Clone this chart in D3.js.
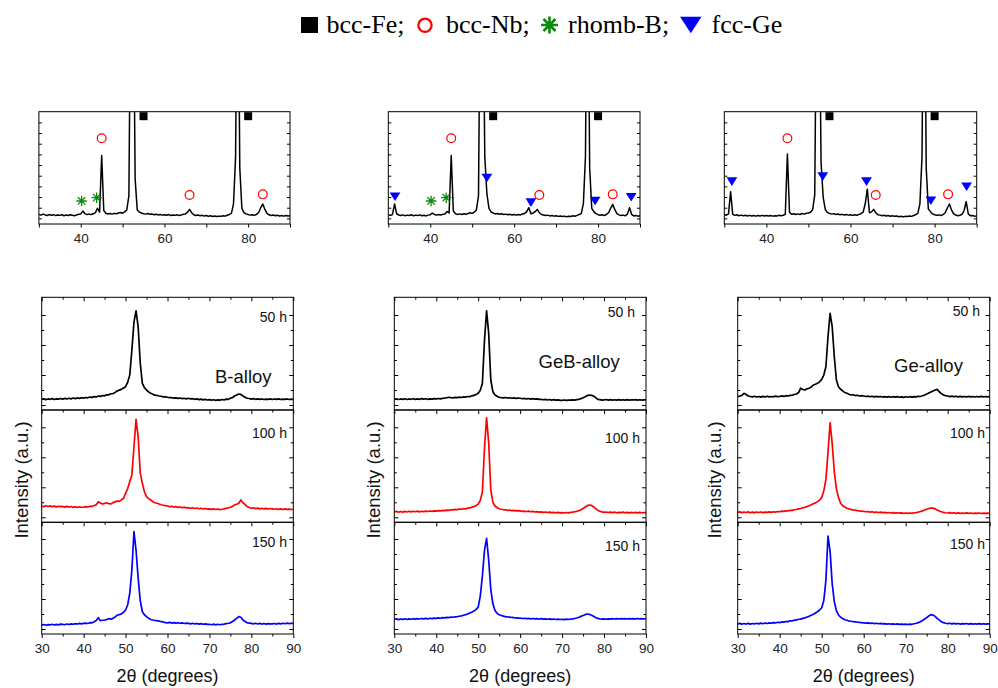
<!DOCTYPE html>
<html><head><meta charset="utf-8">
<script src="https://cdn.jsdelivr.net/npm/d3@7"></script>
<style>body{margin:0;background:#fff}svg{display:block}</style>
</head><body>
<svg id="c" width="998" height="688"></svg>
<script>
// ---------- DATA ----------
// 2-theta sampling grid (degrees), 0.5 degree step
const twoTheta = d3.range(30, 90.25, 0.5);
const xTickLabelsTop = [40, 60, 80];
const xTickLabelsBottom = [30, 40, 50, 60, 70, 80, 90];
const alloyNames = ["B-alloy", "GeB-alloy", "Ge-alloy"];
const millingTimes = ["50 h", "100 h", "150 h"];
const legendItems = ["bcc-Fe;", "bcc-Nb;", "rhomb-B;", "fcc-Ge"];

// Top (reference) patterns, intensity a.u.
const topB = [
 8.6,7.9,8.8,8.1,7.6,8.4,7.8,8.3,7.5,8.0,
 7.7,8.2,7.4,8.0,7.6,8.3,7.8,7.4,8.1,8.6,
 9.0,11.5,9.2,8.4,8.8,8.5,9.1,10.2,14.0,10.5,
 61,12.0,9.6,8.9,9.4,8.8,9.5,9.0,9.8,10.3,
 9.6,10.8,12.5,25,250,250,40,12.5,10.6,9.8,
 9.2,8.8,9.3,8.6,8.9,8.3,8.7,8.1,8.5,7.9,
 8.3,7.8,8.4,7.6,8.1,7.7,8.2,7.5,8.0,8.6,
 9.0,10.4,13.0,10.1,8.2,7.6,8.0,7.3,7.7,7.1,
 7.5,6.9,7.3,6.7,7.1,6.6,7.0,6.8,7.4,7.0,
 7.8,8.5,9.5,18,60,300,50,14,10.2,9.0,
 8.4,7.9,8.3,7.7,8.6,10.2,14.5,17.8,13.0,9.4,
 8.2,7.6,8.0,7.3,7.8,7.2,7.6,7.0,7.5,7.1,
 7.4];
const topGeB = [
 8.2,7.7,8.5,17.8,9.0,8.0,7.5,8.1,7.4,7.9,
 7.6,8.2,7.3,7.9,7.5,8.1,7.4,7.8,7.2,7.9,
 8.3,9.6,8.5,7.9,8.4,8.0,8.6,9.0,11.2,9.8,
 61,11.5,9.2,8.5,9.0,8.4,9.1,8.6,9.4,10.0,
 9.4,10.6,12.5,25,250,250,60,27,14,10.8,
 9.8,9.0,9.4,8.7,9.1,8.5,8.8,8.2,8.6,8.0,
 8.4,7.9,8.5,8.1,8.9,9.4,11.0,14.5,9.2,9.6,
 11.0,13.0,10.2,8.4,8.0,7.5,7.9,7.2,7.6,7.0,
 7.4,6.8,7.2,6.6,7.0,6.5,6.9,6.7,7.3,6.9,
 7.7,8.4,9.5,18,60,300,50,14,11,9.2,
 8.3,7.8,8.2,7.6,8.5,10.0,14.0,17.5,12.8,9.3,
 8.1,7.5,7.9,7.3,8.8,14.5,8.6,7.2,7.5,7.0,
 7.3];
const topGe = [
 8.4,7.8,9.0,28.8,8.6,7.7,8.2,7.4,7.9,7.3,
 7.8,7.2,7.7,7.1,7.6,7.0,7.5,7.2,7.7,7.1,
 7.6,7.1,7.5,7.0,7.4,7.2,7.7,7.3,7.8,8.6,
 62.3,10.5,8.6,9.1,8.4,9.0,8.5,9.3,8.8,9.6,
 9.8,10.5,12.8,26,250,250,55,24,13,10.2,
 9.5,8.8,9.2,8.5,8.9,8.2,8.6,8.0,8.4,7.9,
 8.3,7.7,8.2,7.8,8.6,9.2,10.5,18,31,10,
 10.8,13.0,10.0,8.3,7.9,7.4,7.8,7.1,7.5,6.9,
 7.3,6.8,7.1,6.5,6.9,6.4,6.8,6.6,7.2,6.8,
 7.6,8.3,9.4,18,60,300,50,13.5,11,9.0,
 8.2,7.7,8.1,7.5,8.4,10.0,14.0,17.8,12.6,9.2,
 8.0,7.4,7.8,8.6,12.0,19.9,9.0,7.3,7.6,7.0,
 7.2];

// Milled patterns (normalised per sub-panel, a.u.)
const bAlloy50 = [
 9.4,9.9,9.2,9.8,9.5,10.1,9.3,9.9,9.6,10.2,
 9.7,10.3,9.8,10.4,9.9,10.6,10.1,10.7,10.3,10.9,
 10.5,11.1,10.8,11.5,11.2,11.9,11.6,12.4,12.1,12.8,
 12.6,13.4,13.5,14.4,14.6,15.6,16.9,17.6,18.3,19.5,
 20.7,24.5,31,53,78,88,74,41.7,23.7,19.8,
 17.7,16.0,14.8,14.0,13.2,12.9,12.4,12.2,11.6,11.7,
 11.3,11.0,10.9,10.5,10.8,10.3,10.6,10.1,10.4,9.9,
 10.4,9.8,10.1,9.5,9.9,9.2,9.6,9.0,9.4,8.9,
 9.2,8.7,9.1,8.6,9.0,8.8,9.3,9.0,9.6,9.5,
 10.4,11.0,12.4,13.3,14.2,13.8,12.4,11.4,10.4,10.2,
 9.7,10.1,9.5,9.9,9.4,9.8,9.3,9.7,9.4,9.9,
 9.3,9.8,9.4,9.9,9.3,9.7,9.4,9.8,9.3,9.6,
 9.5];
const bAlloy100 = [
 14.5,13.9,14.8,14.1,14.6,13.8,14.4,13.7,14.3,13.9,
 14.1,13.5,14.2,13.6,14.0,13.3,13.9,13.2,13.8,13.4,
 13.4,14.0,13.6,14.3,14.1,14.9,15.6,18.3,17.2,16.3,
 16.9,17.4,16.6,16.3,17.5,18.2,19.0,18.6,20.0,21.2,
 25.8,30,36,42,67,91.7,76,44,34.7,27.2,
 22.8,21.0,19.9,18.3,17.4,17.0,16.3,15.6,15.2,14.8,
 14.5,14.0,14.2,13.6,13.9,13.3,13.6,13.0,13.4,12.8,
 13.0,12.5,12.9,12.3,12.7,12.1,12.5,11.9,12.3,11.8,
 12.0,11.5,11.9,11.4,11.8,11.3,11.6,12.0,12.5,12.9,
 13.4,14.2,15.5,16.1,16.9,19.9,17.4,15.8,14.0,13.2,
 12.5,12.9,12.2,12.6,12.0,12.5,11.9,12.4,11.8,12.3,
 12.0,11.6,12.1,11.5,12.0,11.4,11.9,11.5,11.8,11.4,
 11.6];
const bAlloy150 = [
 8.0,8.5,7.8,8.4,8.1,8.7,8.0,8.6,8.2,8.8,
 8.7,8.3,9.0,8.5,9.1,8.7,9.3,8.9,9.5,9.1,
 9.5,9.8,9.4,10.1,10.0,11.0,12.0,14.6,11.9,12.3,
 12.5,12.9,13.7,13.3,14.0,15.2,17.0,17.3,18.0,19.2,
 21.5,26,36.5,57,91.6,75,50,30,20,17.2,
 15.5,14.0,13.0,12.5,12.1,11.9,11.6,11.0,10.8,10.2,
 10.0,10.4,9.8,10.2,9.7,10.1,9.6,9.9,9.4,9.8,
 9.5,9.1,9.6,9.0,9.4,8.8,9.3,8.7,9.1,8.6,
 8.7,8.3,8.8,8.2,8.7,8.3,8.6,8.9,9.3,9.6,
 10.0,11.2,12.5,14.0,15.5,15.0,12.5,11.2,10.0,9.8,
 9.5,9.1,9.6,9.0,9.5,8.9,9.4,8.8,9.3,9.0,
 9.0,9.4,8.9,9.5,9.1,9.6,9.2,9.7,9.3,9.6,
 9.5];
const gebAlloy50 = [
 9.5,9.9,9.3,9.8,9.4,10.0,9.3,9.8,9.5,10.0,
 9.4,9.9,9.5,10.1,9.6,10.0,9.5,9.9,9.6,10.1,
 9.8,10.2,9.9,10.4,10.5,10.9,11.3,11.0,10.8,11.2,
 11.0,11.4,11.1,11.6,11.5,11.9,11.8,12.6,13.0,13.8,
 14.8,17.5,23.7,62,88,68,26.6,16.2,13.3,12.2,
 11.3,11.0,10.8,11.1,10.6,10.9,10.4,10.7,10.3,10.6,
 10.4,10.0,10.3,9.8,10.2,9.7,10.1,9.6,9.9,9.5,
 9.5,9.1,9.4,8.9,9.3,8.8,9.2,8.7,9.0,8.6,
 8.6,8.9,8.5,8.8,8.7,9.0,8.8,9.2,9.5,10.1,
 10.9,11.8,12.8,13.3,13.0,12.4,11.0,9.5,9.2,8.8,
 8.9,9.3,8.8,9.2,8.7,9.1,8.8,9.2,8.7,9.1,
 8.8,9.2,8.7,9.1,8.9,9.2,8.8,9.1,8.7,9.0,
 8.9];
const gebAlloy100 = [
 9.2,9.7,9.0,9.6,9.1,9.7,9.2,9.8,9.3,9.8,
 9.4,9.9,9.3,9.8,9.5,10.0,9.6,10.1,9.7,10.2,
 9.9,10.4,10.1,10.6,10.4,10.9,10.7,11.2,11.0,11.5,
 11.3,11.8,11.6,12.1,12.0,12.6,12.8,13.5,14.0,15.0,
 16.2,19.5,27,66,93,71,29,18,14.5,13.0,
 12.1,11.6,11.2,11.0,10.7,10.9,10.4,10.6,10.2,10.4,
 10.1,9.8,10.0,9.6,9.9,9.4,9.7,9.2,9.5,9.1,
 9.3,8.9,9.2,8.7,9.0,8.6,8.9,8.5,8.8,8.4,
 8.6,8.3,8.7,8.4,8.8,9.0,9.4,9.8,10.4,11.2,
 12.3,13.6,14.8,15.4,15.0,13.8,12.2,10.8,9.8,9.3,
 8.9,9.2,8.7,9.1,8.6,9.0,8.5,8.9,8.6,9.0,
 8.5,8.9,8.4,8.8,8.5,8.9,8.4,8.8,8.5,8.7,
 8.6];
const gebAlloy150 = [
 13.0,13.5,12.9,13.4,13.1,13.6,13.0,13.5,13.2,13.7,
 13.3,13.8,13.4,13.9,13.5,14.0,13.6,14.1,13.8,14.2,
 14.0,14.4,14.1,14.6,14.4,14.9,14.7,15.1,15.0,15.4,
 15.5,15.9,16.2,16.8,17.3,18.0,18.8,19.6,20.5,22.0,
 24,34,52,75,85.7,66,40,27,21,18.5,
 17.2,16.6,16.0,15.6,15.3,15.1,14.8,14.6,14.5,14.2,
 14.2,13.9,14.1,13.7,14.0,13.6,13.9,13.5,13.8,13.4,
 13.7,13.3,13.6,13.2,13.5,13.1,13.4,13.0,13.3,13.0,
 13.2,12.9,13.3,13.0,13.4,13.5,13.9,14.3,15.0,15.8,
 16.5,17.3,17.9,17.6,16.8,15.8,14.8,14.0,13.6,13.3,
 13.5,13.2,13.6,13.3,13.7,13.4,13.8,13.4,13.7,13.5,
 13.8,13.4,13.7,13.5,13.8,13.5,13.9,13.6,13.8,13.6,
 13.7];
const geAlloy50 = [
 11.8,12.4,13.0,14.8,13.8,12.4,12.0,11.6,12.2,11.5,
 12.0,11.4,12.1,11.5,12.2,11.6,12.0,11.7,12.3,11.8,
 12.0,12.5,12.1,12.7,12.4,13.0,13.2,13.8,14.2,15.5,
 19.3,18.2,17.7,18.8,19.3,20.3,22.2,22.8,23.7,25.0,
 27.2,31,38.4,65,85.8,74,47.3,26.6,20.7,18.4,
 16.9,15.6,14.8,14.0,13.3,13.5,12.8,13.1,12.4,12.7,
 12.4,12.0,12.3,11.8,12.2,11.7,12.1,11.6,12.0,11.5,
 11.8,11.4,11.9,11.3,11.8,11.4,11.9,11.3,11.7,11.2,
 11.8,11.3,11.8,11.4,11.9,11.6,12.2,12.0,12.6,13.2,
 14.2,15.1,16.0,16.9,17.7,18.3,16.2,14.6,13.3,12.8,
 12.4,11.9,12.3,11.8,12.2,11.7,12.1,11.6,12.0,11.7,
 12.1,11.6,12.0,11.5,12.0,11.6,12.1,11.7,12.0,11.6,
 11.9];
const geAlloy100 = [
 8.8,9.3,8.6,9.2,8.7,9.3,8.5,9.1,8.6,9.2,
 8.7,9.2,8.6,9.1,8.8,9.3,8.9,9.4,9.1,9.6,
 9.4,9.9,9.7,10.2,10.1,10.7,10.6,11.2,11.4,12.0,
 12.3,12.9,13.4,14.0,14.8,15.6,16.5,17.3,18.4,19.8,
 22,28,38,62,88.7,70,45,30,22,17,
 14.8,13.6,12.5,12.0,11.3,11.0,10.8,10.4,10.2,9.9,
 9.8,9.4,9.6,9.1,9.4,8.9,9.2,8.7,9.0,8.6,
 8.8,8.4,8.7,8.3,8.6,8.2,8.5,8.1,8.4,8.0,
 8.3,7.9,8.3,8.0,8.5,8.7,9.1,9.6,10.2,10.9,
 11.6,12.3,12.7,12.6,12.0,11.0,10.1,9.4,8.9,8.5,
 8.3,8.6,8.1,8.5,8.0,8.4,7.9,8.3,8.0,8.4,
 7.9,8.3,7.8,8.2,7.9,8.3,7.8,8.2,7.9,8.1,
 8.0];
const geAlloy150 = [
 9.0,9.5,8.8,9.4,8.9,9.5,8.8,9.4,9.0,9.6,
 9.1,9.7,9.2,9.8,9.4,10.0,9.6,10.2,9.9,10.5,
 10.2,10.8,10.6,11.2,11.1,11.8,11.7,12.4,12.5,13.2,
 13.3,14.0,14.4,15.2,15.8,16.8,17.6,18.8,19.9,21.5,
 23.5,30,48,87.6,74,45,29,21,17,15.0,
 13.8,12.8,12.3,11.6,11.4,11.0,10.8,10.5,10.4,10.1,
 10.0,9.7,9.9,9.5,9.8,9.3,9.6,9.2,9.5,9.1,
 9.3,8.9,9.2,8.8,9.1,8.7,9.0,8.6,8.9,8.6,
 8.8,8.5,8.9,8.7,9.2,9.6,10.2,11.0,12.0,13.4,
 14.6,16.2,17.3,17.0,15.8,14.0,12.4,11.0,10.2,9.6,
 9.3,9.6,9.1,9.5,9.0,9.4,8.9,9.3,9.0,9.4,
 8.9,9.3,8.8,9.2,8.9,9.3,8.8,9.2,8.9,9.1,
 9.0];

// Phase markers [2theta, intensity] in the top panels
const feMarksB   = [[55, 96], [80, 96]];
const feMarksGeB = [[55, 96], [80, 96]];
const feMarksGe  = [[55, 96], [80, 96]];
const nbMarksB   = [[45, 76.3], [66, 25.8], [83.5, 26.4]];
const nbMarksGeB = [[45, 76.3], [66, 25.8], [83.5, 26.4]];
const nbMarksGe  = [[45, 76.3], [66, 25.8], [83.2, 26.4]];
const boronMarksB   = [[40.2, 20.5], [43.8, 23.4]];
const boronMarksGeB = [[40.2, 20.5], [43.8, 23.4]];
const boronMarksGe  = [];
const geMarksB   = [];
const geMarksGeB = [[31.6, 24.3], [53.5, 40.9], [64.0, 19.0], [79.3, 20.5], [87.9, 23.8]];
const geMarksGe  = [[31.8, 37.7], [53.4, 42.2], [63.8, 37.7], [79.1, 20.7], [87.6, 33.2]];

// ---------- DRAWING ----------
const svg = d3.select('#c');
const FONT = "'Liberation Sans', Arial, sans-serif";
const SERIF = "'Liberation Serif', 'Times New Roman', serif";
const RED = '#ff0000', BLUE = '#0000ff', GREEN = '#0a8a0a';

function asteriskPath(cx, cy, r) {
  const d = r * Math.SQRT1_2;
  return `M${cx - r},${cy}L${cx + r},${cy}M${cx},${cy - r}L${cx},${cy + r}` +
         `M${cx - d},${cy - d}L${cx + d},${cy + d}M${cx - d},${cy + d}L${cx + d},${cy - d}`;
}
function triDownPath(cx, cy, w, h) {
  return `M${cx - w / 2},${cy - h / 2}L${cx + w / 2},${cy - h / 2}L${cx},${cy + h / 2}Z`;
}

// Legend
const lg = svg.append('g');
lg.append('rect').attr('x', 301).attr('y', 17).attr('width', 17).attr('height', 16).attr('fill', '#000');
lg.append('circle').attr('cx', 425).attr('cy', 25.3).attr('r', 6.6).attr('fill', 'none').attr('stroke', RED).attr('stroke-width', 2.3);
lg.append('path').attr('d', asteriskPath(549.5, 25, 8.5)).attr('stroke', GREEN).attr('stroke-width', 2.6).attr('fill', 'none');
lg.append('path').attr('d', triDownPath(690.8, 25, 21.5, 16.5)).attr('fill', BLUE);
const legendX = [326.5, 446, 568, 711.5];
legendItems.forEach((t, i) => {
  lg.append('text').attr('x', legendX[i]).attr('y', 33.3).text(t)
    .attr('font-family', SERIF).attr('font-size', 26).attr('fill', '#000');
});

const lineGen = (x, y) => d3.line().x((d, i) => x(twoTheta[i])).y(d => y(d));

// Top panels
const topPanels = [
  {x0: 38.9, x1: 290, data: topB, fe: feMarksB, nb: nbMarksB, bo: boronMarksB, ge: geMarksB},
  {x0: 388.3, x1: 640, data: topGeB, fe: feMarksGeB, nb: nbMarksGeB, bo: boronMarksGeB, ge: geMarksGeB},
  {x0: 724.3, x1: 976.7, data: topGe, fe: feMarksGe, nb: nbMarksGe, bo: boronMarksGe, ge: geMarksGe}
];
const TOP_Y0 = 111.7, TOP_Y1 = 224;
topPanels.forEach((p, k) => {
  const x = d3.scaleLinear().domain([30, 90]).range([p.x0, p.x1]);
  const y = d3.scaleLinear().domain([0, 100]).range([TOP_Y1, TOP_Y0]);
  const g = svg.append('g');
  const cid = 'clipTop' + k;
  g.append('clipPath').attr('id', cid).append('rect')
    .attr('x', p.x0).attr('y', TOP_Y0).attr('width', p.x1 - p.x0).attr('height', TOP_Y1 - TOP_Y0);
  g.append('path').datum(p.data).attr('d', lineGen(x, y))
    .attr('clip-path', `url(#${cid})`).attr('fill', 'none').attr('stroke', '#000')
    .attr('stroke-width', 1.5).attr('stroke-linejoin', 'round');
  const ax = g.append('g').attr('transform', `translate(0,${TOP_Y1})`)
    .call(d3.axisBottom(x).tickValues(d3.range(30, 91, 10)).tickSize(3.5).tickPadding(6)
      .tickFormat(d => xTickLabelsTop.includes(d) ? d : ''));
  const yt = d3.range(5, 100, 9.5);
  const al = g.append('g').attr('transform', `translate(${p.x0},0)`)
    .call(d3.axisRight(y).tickValues(yt).tickSize(3).tickFormat(''));
  const ar = g.append('g').attr('transform', `translate(${p.x1},0)`)
    .call(d3.axisLeft(y).tickValues(yt).tickSize(3).tickFormat(''));
  [ax, al, ar].forEach(a => { a.select('.domain').remove(); a.selectAll('line').attr('stroke', '#000'); });
  ax.selectAll('text').attr('font-family', FONT).attr('font-size', 13.5).attr('fill', '#222');
  g.append('rect').attr('x', p.x0).attr('y', TOP_Y0).attr('width', p.x1 - p.x0).attr('height', TOP_Y1 - TOP_Y0)
    .attr('fill', 'none').attr('stroke', '#000').attr('stroke-width', 1);
  p.fe.forEach(m => g.append('rect').attr('x', x(m[0]) - 4).attr('y', y(m[1]) - 4).attr('width', 8).attr('height', 8).attr('fill', '#000'));
  p.nb.forEach(m => g.append('circle').attr('cx', x(m[0])).attr('cy', y(m[1])).attr('r', 4.4)
    .attr('fill', 'none').attr('stroke', RED).attr('stroke-width', 1.2));
  p.bo.forEach(m => g.append('path').attr('d', asteriskPath(x(m[0]), y(m[1]), 5.2))
    .attr('stroke', GREEN).attr('stroke-width', 1.3).attr('fill', 'none'));
  p.ge.forEach(m => g.append('path').attr('d', triDownPath(x(m[0]), y(m[1]), 10.8, 8.6)).attr('fill', BLUE));
});

// Bottom panels
const bottomCols = [
  {x0: 41.7, x1: 293.3, series: [bAlloy50, bAlloy100, bAlloy150], name: {x: 215, y: 383.3}, yl: 28,
   hours: [{x: 287, y: 321.7}, {x: 287, y: 438.3}, {x: 287, y: 546.7}]},
  {x0: 394.3, x1: 646, series: [gebAlloy50, gebAlloy100, gebAlloy150], name: {x: 538.5, y: 368.3}, yl: 379.5,
   hours: [{x: 635, y: 316.7}, {x: 640, y: 443.3}, {x: 640, y: 551}]},
  {x0: 737.7, x1: 989.7, series: [geAlloy50, geAlloy100, geAlloy150], name: {x: 894, y: 371.7}, yl: 721,
   hours: [{x: 980, y: 316}, {x: 985, y: 438.3}, {x: 985, y: 549}]}
];
const SUB_Y = [297.3, 410, 522.3, 634];
const seriesColors = ['#000', RED, BLUE];

bottomCols.forEach((c, k) => {
  const x = d3.scaleLinear().domain([30, 90]).range([c.x0, c.x1]);
  const g = svg.append('g');
  const majorX = d3.range(30, 91, 10), minorX = d3.range(35, 90, 10);
  c.series.forEach((s, j) => {
    const top = SUB_Y[j], bot = SUB_Y[j + 1];
    const y = d3.scaleLinear().domain([0, 100]).range([bot, top]);
    const cid = `clipB${k}_${j}`;
    g.append('clipPath').attr('id', cid).append('rect')
      .attr('x', c.x0).attr('y', top).attr('width', c.x1 - c.x0).attr('height', bot - top);
    g.append('path').datum(s).attr('d', lineGen(x, y)).attr('clip-path', `url(#${cid})`)
      .attr('fill', 'none').attr('stroke', seriesColors[j]).attr('stroke-width', 1.7).attr('stroke-linejoin', 'round');
    const a1 = g.append('g').attr('transform', `translate(0,${top})`)
      .call(d3.axisBottom(x).tickValues(majorX).tickSize(4).tickFormat(''));
    const a2 = g.append('g').attr('transform', `translate(0,${top})`)
      .call(d3.axisBottom(x).tickValues(minorX).tickSize(2.5).tickFormat(''));
    const yMaj = [5, 35, 65, 95].map(px => y.invert(bot - px));
    const yMin = [20, 50, 80].map(px => y.invert(bot - px));
    const a3 = g.append('g').attr('transform', `translate(${c.x0},0)`).call(d3.axisRight(y).tickValues(yMaj).tickSize(4).tickFormat(''));
    const a4 = g.append('g').attr('transform', `translate(${c.x0},0)`).call(d3.axisRight(y).tickValues(yMin).tickSize(2.5).tickFormat(''));
    const a5 = g.append('g').attr('transform', `translate(${c.x1},0)`).call(d3.axisLeft(y).tickValues(yMaj).tickSize(4).tickFormat(''));
    const a6 = g.append('g').attr('transform', `translate(${c.x1},0)`).call(d3.axisLeft(y).tickValues(yMin).tickSize(2.5).tickFormat(''));
    [a1, a2, a3, a4, a5, a6].forEach(a => { a.select('.domain').remove(); a.selectAll('line').attr('stroke', '#000'); });
    g.append('rect').attr('x', c.x0).attr('y', top).attr('width', c.x1 - c.x0).attr('height', bot - top)
      .attr('fill', 'none').attr('stroke', '#000').attr('stroke-width', 1);
    g.append('text').attr('x', c.hours[j].x).attr('y', c.hours[j].y).attr('text-anchor', 'end')
      .attr('font-family', FONT).attr('font-size', 14).attr('fill', '#111').text(millingTimes[j]);
  });
  const bMaj = g.append('g').attr('transform', `translate(0,${SUB_Y[3]})`)
    .call(d3.axisBottom(x).tickValues(xTickLabelsBottom).tickSize(4).tickPadding(5.7).tickFormat(d3.format('d')));
  const bMin = g.append('g').attr('transform', `translate(0,${SUB_Y[3]})`)
    .call(d3.axisBottom(x).tickValues(minorX).tickSize(2.5).tickFormat(''));
  [bMaj, bMin].forEach(a => { a.select('.domain').remove(); a.selectAll('line').attr('stroke', '#000'); });
  bMaj.selectAll('text').attr('font-family', FONT).attr('font-size', 13.5).attr('fill', '#222');
  g.append('text').attr('x', c.name.x).attr('y', c.name.y).attr('font-family', FONT).attr('font-size', 18.5)
    .attr('fill', '#111').text(alloyNames[k]);
  g.append('text').attr('x', (c.x0 + c.x1) / 2).attr('y', 681.5).attr('text-anchor', 'middle')
    .attr('font-family', FONT).attr('font-size', 18).attr('fill', '#111').text('2θ (degrees)');
  g.append('text').attr('transform', `translate(${c.yl},480) rotate(-90)`).attr('text-anchor', 'middle')
    .attr('font-family', FONT).attr('font-size', 18.5).attr('fill', '#111').text('Intensity (a.u.)');
});
</script>
</body></html>
